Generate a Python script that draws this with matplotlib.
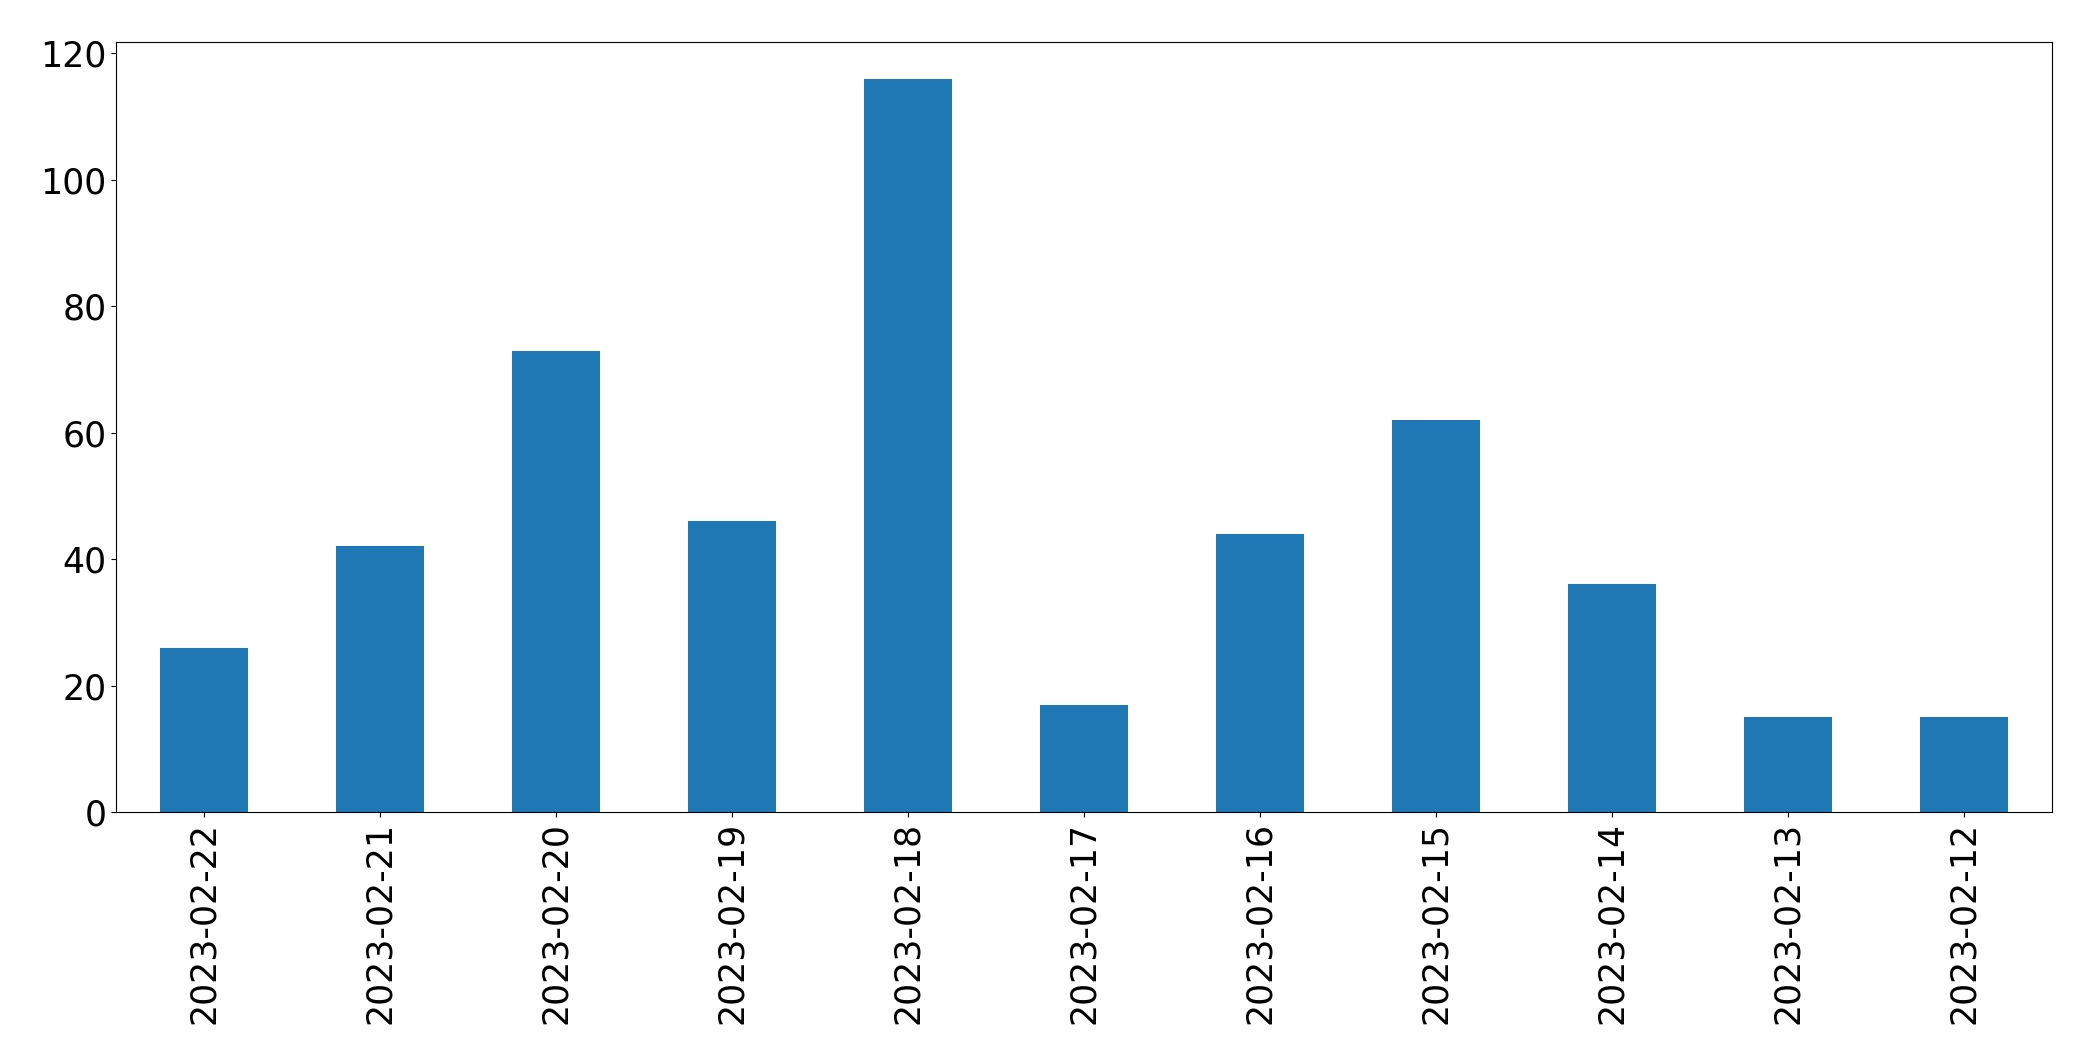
import matplotlib.pyplot as plt

dates = ['2023-02-22', '2023-02-21', '2023-02-20', '2023-02-19', '2023-02-18',
         '2023-02-17', '2023-02-16', '2023-02-15', '2023-02-14', '2023-02-13',
         '2023-02-12']
counts = [26, 42, 73, 46, 116, 17, 44, 62, 36, 15, 15]

fig, ax = plt.subplots(figsize=(20.93, 10.64), dpi=100)
fig.subplots_adjust(left=116/2093, right=2052/2093, bottom=1-812/1064, top=1-42/1064)

x = range(len(dates))
ax.bar(x, counts, width=0.5, color='#1f77b4')
ax.set_xticks(list(x))
ax.set_xticklabels(dates, rotation=90)
ax.set_xlim(-0.5, len(dates) - 0.5)
ax.tick_params(labelsize=25)

fig.savefig('out.png', dpi=100)
